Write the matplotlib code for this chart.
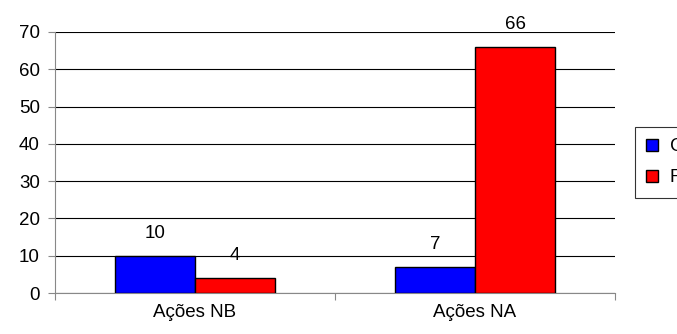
import numpy as np
import matplotlib.pyplot as plt

categories = ["Ações NB", "Ações NA"]
serie_c = [10, 7]
serie_f = [4, 66]
nomes = ["Certo", "Falso"]

plt.rcParams['font.family'] = ['Liberation Sans', 'DejaVu Sans']

fig = plt.figure(figsize=(6.77, 3.34), dpi=100)
ax = fig.add_axes([55/677, 1-293/334, 560/677, 261/334])

x = np.arange(len(categories))
w = 80/280
b1 = ax.bar(x - w/2, serie_c, w, color='#0000ff', edgecolor='black', linewidth=1, label=nomes[0], zorder=3)
b2 = ax.bar(x + w/2, serie_f, w, color='#ff0000', edgecolor='black', linewidth=1, label=nomes[1], zorder=3)

for bars, vals in ((b1, serie_c), (b2, serie_f)):
    for r, v in zip(bars, vals):
        ax.annotate(str(v), (r.get_x() + r.get_width()/2, v), xytext=(0, 10),
                    textcoords='offset points', ha='center', va='bottom', fontsize=13.5)

ax.set_xlim(-0.5, 1.5)
ax.set_ylim(0, 70)
ax.set_yticks(range(0, 71, 10))
ax.yaxis.grid(True, color='black', linewidth=0.8, zorder=0)
ax.set_xticks([-0.5, 0.5, 1.5])
ax.set_xticklabels([])
ax.set_xticks(x, minor=True)
ax.set_xticklabels(categories, minor=True)
ax.tick_params(axis='x', which='minor', length=0, pad=8, labelsize=13.5)
ax.tick_params(axis='x', which='major', length=5, direction='out', color='#888888')
ax.tick_params(axis='y', length=5, direction='out', color='#888888', labelsize=13.5, pad=6)
for s in ('top', 'right'):
    ax.spines[s].set_visible(False)
ax.spines['left'].set_color('#888888')
ax.spines['bottom'].set_color('#888888')

leg = fig.legend(loc='upper left', bbox_to_anchor=(635/677, 1-127/334), borderaxespad=0,
                 frameon=True, fancybox=False, edgecolor='black', fontsize=13.5,
                 handlelength=0.6, handleheight=0.6, handletextpad=0.65,
                 borderpad=0.6, labelspacing=0.75)
leg.get_frame().set_linewidth(0.8)

fig.savefig('out.png', dpi=100)
